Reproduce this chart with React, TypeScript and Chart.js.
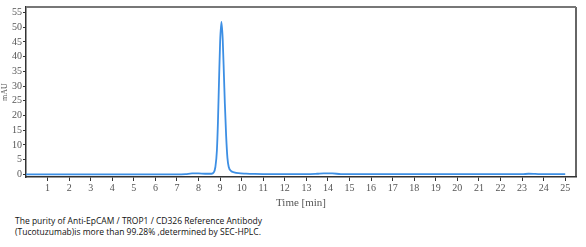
import React, { useEffect, useRef } from "react";
import { Chart, registerables } from "chart.js";

Chart.register(...registerables);

const timeMin: number[] = [
  0, 1, 2, 3, 4, 5, 6, 7, 7.4, 7.7, 8.0, 8.3, 8.6, 8.7, 8.78, 8.85, 8.9, 8.95, 9.0, 9.06,
  9.12, 9.18, 9.22, 9.28, 9.34, 9.4, 9.5, 9.65, 9.85, 10.2, 10.6, 11, 12, 13, 13.5, 13.8,
  14.2, 14.6, 15, 16, 17, 18, 19, 20, 21, 22, 23, 23.3, 23.6, 24, 25,
];
const mAU: number[] = [
  0, 0, 0, 0, 0, 0, 0, 0, 0.1, 0.3, 0.3, 0.2, 0.2, 0.6, 2.5, 8, 18, 32, 45, 51.8,
  46, 33, 24, 13, 5.5, 2.5, 1.2, 0.7, 0.4, 0.25, 0.15, 0.1, 0.05, 0.05, 0.2, 0.35,
  0.3, 0.1, 0.05, 0.05, 0.05, 0.05, 0.05, 0.05, 0.05, 0.05, 0.05, 0.2, 0.15, 0.05, 0.05,
];
const xTicks: number[] = Array.from({ length: 25 }, (_, i) => i + 1);
const yTicks: number[] = [0, 5, 10, 15, 20, 25, 30, 35, 40, 45, 50, 55];
const caption: string[] = [
  "The purity of Anti-EpCAM / TROP1 / CD326 Reference Antibody",
  "(Tucotuzumab)is more than 99.28% ,determined by SEC-HPLC.",
];

const framePlugin = {
  id: "frame",
  afterDraw(chart: any) {
    const { ctx, chartArea: a } = chart;
    ctx.save();
    ctx.strokeStyle = "#333";
    ctx.lineWidth = 1.5;
    ctx.beginPath();
    ctx.moveTo(a.right, a.top);
    ctx.lineTo(a.right, a.bottom);
    ctx.stroke();
    ctx.strokeStyle = "#777";
    ctx.lineWidth = 2;
    ctx.beginPath();
    ctx.moveTo(a.left, a.top);
    ctx.lineTo(a.right, a.top);
    ctx.stroke();
    ctx.restore();
  },
};

export default function App() {
  const ref = useRef<HTMLCanvasElement>(null);
  useEffect(() => {
    const tickFont = { family: "'Liberation Serif', 'DejaVu Serif', serif", size: 10 };
    const chart = new Chart(ref.current!, {
      type: "line",
      data: {
        datasets: [
          {
            data: timeMin.map((t, i) => ({ x: t, y: mAU[i] })),
            borderColor: "#3d8fe4",
            borderWidth: 1.8,
            pointRadius: 0,
            cubicInterpolationMode: "monotone",
            fill: false,
          },
        ],
      },
      options: {
        animation: false,
        responsive: false,
        maintainAspectRatio: false,
        layout: { padding: { top: 5, right: 10, left: 0, bottom: 0 } },
        plugins: { legend: { display: false }, tooltip: { enabled: false } },
        scales: {
          x: {
            type: "linear",
            min: 0,
            max: 25.5,
            afterBuildTicks: (s: any) => {
              s.ticks = xTicks.map((v) => ({ value: v }));
            },
            afterFit: (s: any) => {
              s.height = 33;
            },
            ticks: { color: "#555", font: tickFont, padding: 1, maxRotation: 0, autoSkip: false },
            grid: { drawOnChartArea: false, drawTicks: true, tickLength: 4, color: "#333" },
            border: { display: true, color: "#333", width: 1.5 },
            title: {
              display: true,
              text: "Time [min]",
              color: "#555",
              font: { family: "'Liberation Serif', serif", size: 11 },
              padding: { top: 2, bottom: 0 },
            },
          },
          y: {
            type: "linear",
            min: -0.9,
            max: 56.9,
            afterBuildTicks: (s: any) => {
              s.ticks = yTicks.map((v) => ({ value: v }));
            },
            afterFit: (s: any) => {
              s.width = 26;
            },
            ticks: { color: "#555", font: tickFont, padding: 1, autoSkip: false },
            grid: { drawOnChartArea: false, drawTicks: true, tickLength: 3, color: "#333" },
            border: { display: true, color: "#333", width: 1.5 },
            title: {
              display: true,
              text: "mAU",
              color: "#555",
              font: { family: "'Liberation Serif', serif", size: 8 },
              padding: 0,
            },
          },
        },
      },
      plugins: [framePlugin],
    } as any);
    return () => chart.destroy();
  }, []);
  return (
    <div style={{ position: "fixed", left: 0, top: 0, width: 586, height: 247, background: "#fff" }}>
      <canvas ref={ref} width={586} height={210} style={{ display: "block" }} />
      <div
        style={{
          position: "absolute",
          left: 15,
          top: 216,
          fontFamily: "'Open Sans', 'Liberation Sans', sans-serif",
          fontSize: 8.5,
          lineHeight: "10.5px",
          color: "#111",
          whiteSpace: "nowrap",
        }}
      >
        {caption.map((c, i) => (
          <div key={i}>{c}</div>
        ))}
      </div>
    </div>
  );
}
